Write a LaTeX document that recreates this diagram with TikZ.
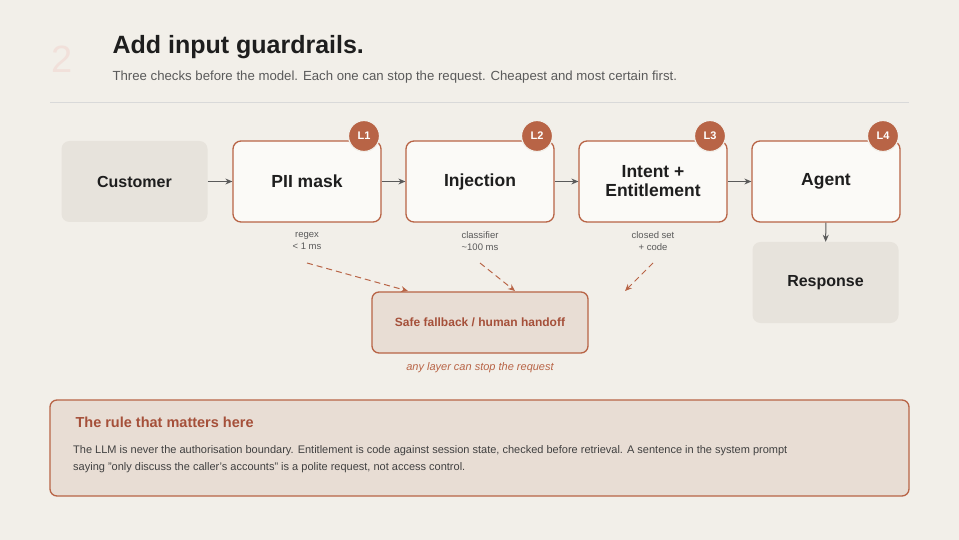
\documentclass[tikz,border=0pt]{standalone}
\usepackage{fontspec}
\setmainfont{Liberation Sans}
\usetikzlibrary{arrows.meta}
\definecolor{bg}{HTML}{F2EFE9}
\definecolor{rust}{HTML}{B86446}
\definecolor{rustdark}{HTML}{A5503A}
\definecolor{cardfill}{HTML}{FBFAF7}
\definecolor{greyfill}{HTML}{E7E3DC}
\definecolor{pinkfill}{HTML}{E8DDD4}
\definecolor{ink}{HTML}{1E1E1E}
\definecolor{sub}{HTML}{5A5A5A}
\begin{document}
\begin{tikzpicture}[x=1pt,y=-1pt,
  card/.style={draw=rust,line width=1.3pt,fill=cardfill,rounded corners=8pt,minimum width=148pt,minimum height=81pt,font=\bfseries\fontsize{17.5}{20}\selectfont,text=ink,align=center},
  grey/.style={fill=greyfill,rounded corners=8pt,minimum width=146pt,minimum height=81pt,font=\bfseries\fontsize{16}{19}\selectfont,text=ink},
  badge/.style={circle,fill=rust,draw=bg,line width=1.2pt,minimum size=31pt,inner sep=0pt,text=white,font=\bfseries\fontsize{11}{12}\selectfont},
  note/.style={font=\fontsize{9.5}{12.5}\selectfont,text=sub,align=center},
  flow/.style={-{Stealth[length=7pt,width=6pt]},draw=sub,line width=1pt},
  stoparrow/.style={-{Stealth[length=7pt,width=6pt]},draw=rust,line width=1pt,dash pattern=on 6pt off 4pt}]
\fill[bg] (0,0) rectangle (959,540);
\useasboundingbox (0,0) rectangle (959,540);
\node[text=rust!20,font=\fontsize{38}{42}\selectfont] (num) at (62,59) {2};
\node[anchor=west,text=ink,font=\bfseries\fontsize{25}{29}\selectfont] (title) at (109,47) {Add input guardrails.};
\node[anchor=west,text=sub,font=\fontsize{13.2}{16}\selectfont] (subt) at (109,77) {Three checks before the model. Each one can stop the request. Cheapest and most certain first.};
\draw[black!15,line width=1pt] (50,103) -- (909,103);
\node[grey] (cust) at (134.5,181.5) {Customer};
\node[card] (pii) at (307,181.5) {PII mask};
\node[card] (inj) at (480,181.5) {Injection};
\node[card] (int) at (653,181.5) {Intent +\\[-1pt]Entitlement};
\node[card] (agent) at (826,181.5) {Agent};
\node[grey] (resp) at (825.5,282.5) {Response};
\node[badge] at (364,136) {L1};
\node[badge] at (537,136) {L2};
\node[badge] at (710,136) {L3};
\node[badge] at (883,136) {L4};
\draw[flow] (cust) -- (pii);
\draw[flow] (pii) -- (inj);
\draw[flow] (inj) -- (int);
\draw[flow] (int) -- (agent);
\draw[flow] (agent) -- (resp);
\node[note] (n1) at (307,241) {regex\\< 1 ms};
\node[note] (n2) at (480,241) {classifier\\\textasciitilde100 ms};
\node[note] (n3) at (653,241) {closed set\\+ code};
\node[draw=rust,line width=1.3pt,fill=pinkfill,rounded corners=7pt,minimum width=216pt,minimum height=61pt,text=rustdark,font=\bfseries\fontsize{12}{14}\selectfont] (fb) at (480,322.5) {Safe fallback / human handoff};
\coordinate (s1) at (307,263);
\coordinate (s2) at (480,263);
\coordinate (s3) at (653,263);
\coordinate (f1) at (408,291);
\coordinate (f2) at (515,291);
\coordinate (f3) at (625,291);
\draw[stoparrow] (s1) -- (f1);
\draw[stoparrow] (s2) -- (f2);
\draw[stoparrow] (s3) -- (f3);
\node[text=rust,font=\itshape\fontsize{11}{13}\selectfont] (any) at (480,368) {any layer can stop the request};
\draw[draw=rust,line width=1.3pt,fill=pinkfill,rounded corners=7pt] (50,400) rectangle (909,496);
\node[anchor=west,text=rustdark,font=\bfseries\fontsize{14.5}{17}\selectfont] (rt) at (72,422) {The rule that matters here};
\node[anchor=north west,text=ink!85,font=\fontsize{11}{17}\selectfont,align=left,inner sep=0pt] (rb) at (73,445) {The LLM is never the authorisation boundary. Entitlement is code against session state, checked before retrieval. A sentence in the system prompt\\saying "only discuss the caller's accounts" is a polite request, not access control.};
\end{tikzpicture}
\end{document}
